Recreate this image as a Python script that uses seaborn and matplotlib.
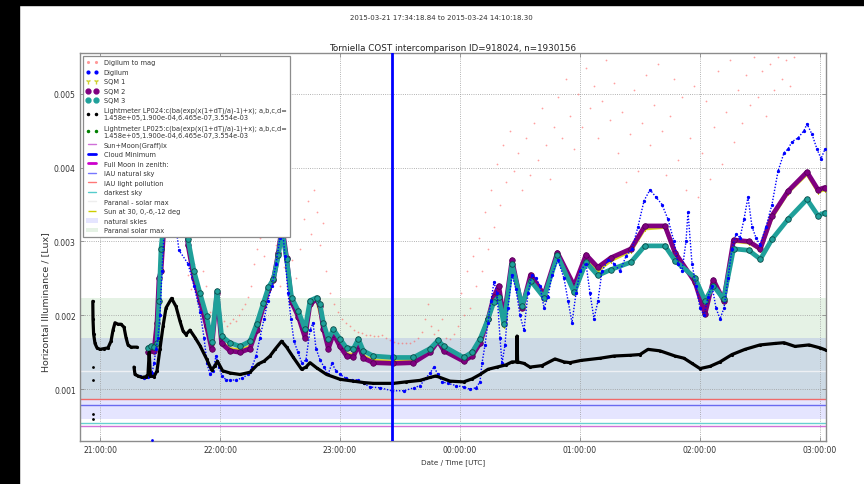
import numpy as np
import pandas as pd
import matplotlib
matplotlib.use("Agg")
import matplotlib.pyplot as plt
import matplotlib.dates as mdates
from matplotlib.patches import Rectangle, Patch
from matplotlib.lines import Line2D
import seaborn as sns

# ---------------- data (minutes after 21:00 UTC, values in milli-lux) ----------------
suptitle_text = "2015-03-21 17:34:18.84 to 2015-03-24 14:10:18.30"
title_text = "Torniella COST intercomparison ID=918024, n=1930156"

lp024_seg1 = [(-3.6, 2.19), (-3.5, 1.95), (-3.2, 1.75), (-2.5, 1.62), (-1.5, 1.56), (0, 1.54),
              (2, 1.55), (4, 1.56), (5.5, 1.65), (6.5, 1.80), (7.5, 1.90), (9, 1.88), (10.5, 1.88),
              (12, 1.84), (13, 1.70), (14, 1.60), (15.5, 1.57), (18.5, 1.57)]
lp024_seg2 = [(17, 1.30), (17.5, 1.20), (19, 1.18), (21, 1.16), (23, 1.17), (24, 1.20), (24.6, 1.50),
              (25.2, 1.18), (27, 1.17), (28.5, 1.25), (30, 1.55), (31.5, 1.85), (33, 2.10), (35.8, 2.23),
              (38, 2.12), (40, 1.92), (41.5, 1.79), (43, 1.74), (45, 1.80), (47.5, 1.70), (50, 1.59),
              (53.3, 1.41), (55.8, 1.26), (57.5, 1.32), (58.7, 1.38), (61.3, 1.25), (65, 1.22),
              (70, 1.20), (75, 1.23), (79, 1.34), (82, 1.38), (85, 1.45), (87.5, 1.54), (90.8, 1.65),
              (93.3, 1.57), (96.7, 1.43), (100.8, 1.27), (103, 1.30), (105, 1.36), (108.3, 1.29),
              (113.3, 1.20), (120, 1.135), (126.7, 1.11), (132, 1.09), (136.7, 1.08), (146.7, 1.08),
              (153, 1.10), (160, 1.12), (165, 1.16), (168, 1.18), (175, 1.11), (181.8, 1.10),
              (186, 1.14), (190, 1.20), (194, 1.27), (198.5, 1.30), (203, 1.33), (206, 1.37),
              (208.3, 1.37), (208.5, 1.72), (208.8, 1.37), (212, 1.35), (215, 1.30), (221, 1.32),
              (227.5, 1.41), (232, 1.37), (235, 1.36), (240.5, 1.39), (250, 1.42), (257, 1.45),
              (265, 1.46), (270, 1.47), (274, 1.54), (280, 1.52), (287.5, 1.45), (292, 1.42),
              (296, 1.35), (300, 1.28), (305, 1.31), (310, 1.37), (316, 1.47), (322.5, 1.54),
              (330, 1.60), (337.5, 1.62), (342, 1.63), (347.5, 1.58), (354.5, 1.60), (360, 1.56),
              (363, 1.53)]
lp024_isolated = [(-3.5, 1.30), (-3.5, 1.12), (-3.5, 0.66), (-3.5, 0.60)]

sqm3 = [(24, 1.56), (25.5, 1.58), (27, 1.57), (28.5, 1.62), (29.5, 2.2), (30.5, 2.9), (32, 3.3),
        (35, 3.8), (38, 4.2), (41, 3.7), (44, 3.03), (47, 2.6), (50, 2.3), (53.3, 1.99), (55.8, 1.64),
        (58.5, 2.33), (60.8, 1.72), (65, 1.63), (70, 1.58), (75, 1.65), (78.3, 1.88), (81.7, 2.17),
        (84.2, 2.38), (86.7, 2.49), (89.2, 2.81), (91, 3.15), (93.3, 2.76), (95.8, 2.24), (99.2, 2.06),
        (102.5, 1.81), (105, 2.20), (108.3, 2.24), (110, 2.15), (111.7, 1.90), (114.2, 1.68),
        (116.7, 1.81), (120, 1.68), (123.3, 1.56), (126.7, 1.55), (129.2, 1.68), (131.7, 1.52),
        (136.7, 1.45), (146.7, 1.43), (156.7, 1.43), (165, 1.55), (169, 1.66), (172, 1.58),
        (181.8, 1.43), (186, 1.50), (190, 1.68), (194, 1.95), (196.9, 2.18), (199.4, 2.25),
        (201.9, 1.88), (206, 2.69), (211, 2.13), (215.3, 2.47), (222, 2.24), (228.7, 2.81),
        (237.1, 2.31), (243, 2.72), (248.9, 2.54), (255.5, 2.62), (265.5, 2.72), (272.4, 2.94),
        (282.5, 2.94), (287.5, 2.74), (297.5, 2.51), (302.5, 2.20), (306.7, 2.40), (311.8, 2.22),
        (316.8, 2.90), (324.4, 2.88), (330.2, 2.76), (336, 3.03), (344, 3.30), (353.5, 3.57),
        (359, 3.35), (362.5, 3.39)]

sqm2 = [(24, 1.50), (25.5, 1.53), (27, 1.52), (28.5, 1.9), (29.5, 2.5), (30.5, 2.6), (32, 3.2),
        (35, 3.9), (38, 4.3), (41, 3.8), (44, 2.95), (47, 2.5), (50, 2.2), (53.3, 1.85), (55.8, 1.55),
        (58.5, 2.30), (60.8, 1.62), (65, 1.52), (70, 1.50), (75, 1.55), (78.3, 1.80), (81.7, 2.12),
        (84.2, 2.35), (86.7, 2.48), (89.2, 2.85), (91, 3.22), (93.3, 2.78), (95.8, 2.18), (99.2, 1.98),
        (102.5, 1.70), (105, 2.15), (108.3, 2.22), (110, 2.12), (111.7, 1.82), (114.2, 1.55),
        (116.7, 1.75), (120, 1.58), (123.3, 1.45), (126.7, 1.44), (129.2, 1.60), (131.7, 1.42),
        (136.7, 1.36), (146.7, 1.35), (156.7, 1.36), (165, 1.50), (169, 1.65), (172, 1.52),
        (181.8, 1.38), (186, 1.45), (190, 1.62), (194, 1.95), (196.9, 2.25), (199.4, 2.40),
        (201.9, 1.95), (206, 2.75), (211, 2.10), (215.3, 2.55), (222, 2.28), (228.7, 2.85),
        (237.1, 2.40), (243, 2.82), (248.9, 2.65), (255.5, 2.78), (265.5, 2.90), (272.4, 3.21),
        (282.5, 3.21), (287.5, 2.85), (297.5, 2.45), (302.5, 2.02), (306.7, 2.48), (311.8, 2.20),
        (316.8, 3.02), (324.4, 3.00), (330.2, 2.90), (336, 3.35), (344, 3.68), (353.5, 3.94),
        (359, 3.70), (362.5, 3.73)]

sqm1 = [(24, 1.52), (27, 1.53), (30.5, 2.7), (35, 3.85), (41, 3.75), (44, 2.96), (50, 2.22),
        (53.3, 1.87), (55.8, 1.58), (58.5, 2.30), (60.8, 1.64), (65, 1.55), (70, 1.53), (75, 1.58),
        (78.3, 1.82), (81.7, 2.13), (86.7, 2.48), (91, 3.18), (95.8, 2.19), (99.2, 1.99),
        (102.5, 1.73), (105, 2.16), (108.3, 2.22), (111.7, 1.84), (114.2, 1.58), (116.7, 1.77),
        (120, 1.61), (123.3, 1.48), (126.7, 1.47), (129.2, 1.62), (131.7, 1.45), (136.7, 1.39),
        (146.7, 1.38), (156.7, 1.39), (165, 1.51), (169, 1.64), (172, 1.53), (181.8, 1.39),
        (186, 1.46), (190, 1.63), (194, 1.92), (196.9, 2.20), (199.4, 2.30), (201.9, 1.85),
        (206, 2.72), (211, 2.10), (215.3, 2.50), (222, 2.26), (228.7, 2.83), (237.1, 2.36),
        (243, 2.78), (248.9, 2.60), (255.5, 2.74), (265.5, 2.87), (272.4, 3.17), (282.5, 3.19),
        (287.5, 2.83), (297.5, 2.46), (302.5, 2.06), (306.7, 2.46), (311.8, 2.21), (316.8, 3.00),
        (324.4, 2.98), (330.2, 2.89), (336, 3.32), (344, 3.66), (353.5, 3.91), (359, 3.67),
        (362.5, 3.70)]

digilum = [(20, 1.18), (22, 1.15), (24, 1.17), (26, 1.22), (27, 1.35), (28, 1.55), (29, 1.7),
           (30, 2.0), (31, 2.6), (32, 3.1), (36, 3.6), (39.5, 2.88), (44, 2.7), (47, 2.4), (50, 2.05),
           (52, 1.7), (53.5, 1.35), (55, 1.20), (56.5, 1.25), (58, 1.45), (59.5, 1.30), (61, 1.18),
           (63, 1.13), (65, 1.12), (68, 1.13), (71, 1.15), (74, 1.20), (76, 1.30), (78, 1.45),
           (80, 1.70), (82, 1.95), (84, 2.20), (86, 2.40), (88, 2.70), (90, 3.05), (91, 3.25),
           (92.5, 2.8), (94, 2.30), (95.5, 1.95), (97, 1.65), (99, 1.50), (101, 1.35), (103, 1.40),
           (105, 1.80), (106.5, 1.90), (108, 1.55), (110, 1.40), (112, 1.30), (114, 1.20),
           (116, 1.35), (118, 1.25), (120, 1.20), (123, 1.15), (126, 1.12), (129, 1.13), (132, 1.08),
           (135, 1.03), (140, 1.02), (146, 0.98), (152, 0.98), (157, 1.02), (160, 1.05), (163, 1.15),
           (165, 1.22), (167, 1.30), (169, 1.20), (171, 1.10), (174, 1.08), (178, 1.05), (182, 1.03),
           (185, 1.00), (188, 1.02), (190, 1.10), (191, 1.35), (192.5, 1.60), (194, 1.90),
           (195.5, 2.20), (197, 2.45), (198.5, 2.30), (200, 1.70), (201, 1.35), (202.5, 1.60),
           (204, 2.10), (206, 2.55), (208, 2.35), (210, 2.00), (212, 1.80), (214, 2.30), (216, 2.55),
           (218, 2.50), (220, 2.40), (222, 2.10), (224, 2.25), (226, 2.55), (229, 2.75), (232, 2.50),
           (234, 2.20), (236, 1.90), (238, 2.30), (240, 2.60), (243, 2.70), (245, 2.30), (247, 1.95),
           (249, 2.20), (251, 2.60), (254, 2.75), (257, 2.70), (260, 2.60), (263, 2.80), (266, 2.90),
           (269, 3.20), (272, 3.55), (275, 3.70), (278, 3.60), (281, 3.50), (284, 3.30), (287, 3.00),
           (289, 2.70), (291, 2.60), (293, 3.00), (294, 3.40), (296, 2.70), (298, 2.40), (300, 2.10),
           (302, 2.00), (304, 2.25), (306, 2.40), (308, 2.10), (310, 1.95), (312, 2.10), (314, 2.50),
           (316, 2.90), (318, 3.10), (320, 3.05), (322, 3.30), (324, 3.60), (326, 3.20), (328, 3.05),
           (330, 2.95), (333, 3.20), (336, 3.50), (339, 3.95), (342, 4.20), (344, 4.25), (346, 4.35),
           (349, 4.40), (352, 4.50), (353.5, 4.59), (356, 4.45), (358.5, 4.25), (360.5, 4.12),
           (362.5, 4.25)]
digilum_isolated = [(26, 0.31)]

digilum_to_mag = [(44, 2.55), (45.5, 2.35), (47, 2.70), (48, 2.45), (50, 2.20), (51.5, 2.60),
                  (53, 2.40), (55, 2.05), (57, 1.95), (59, 1.90), (60.5, 1.88), (62, 1.92), (63.5, 1.86),
                  (65, 1.90), (66.5, 1.95), (68, 1.92), (69.5, 2.00), (71, 2.08), (72.5, 2.15), (74, 2.25),
                  (75.5, 2.40), (77, 2.70), (78.5, 2.90), (80, 3.05), (82, 2.80), (84, 3.20), (86, 2.55),
                  (88, 2.95), (90, 2.40), (92, 2.65), (94, 2.30), (96, 2.75), (98, 2.50), (100, 2.90),
                  (102, 3.30), (104, 3.55), (105.5, 3.10), (107, 3.70), (108.5, 3.40), (110, 2.95),
                  (111.5, 3.25), (113, 2.60), (115, 2.30), (117, 2.15), (119, 2.05), (121, 1.95),
                  (123, 1.90), (125, 1.85), (127, 1.80), (129, 1.78), (131, 1.76), (133, 1.74),
                  (135, 1.73), (137, 1.72), (139, 1.72), (141, 1.73), (143, 1.70), (145, 1.66),
                  (147, 1.64), (149, 1.62), (151, 1.62), (153, 1.63), (155, 1.62), (157, 1.65),
                  (159, 1.70), (161, 1.78), (162.5, 1.95), (164, 2.15), (165.5, 1.85), (167, 1.75),
                  (169, 1.80), (171, 1.95), (173, 1.70), (175, 1.68), (177, 1.75), (179, 1.85),
                  (180.5, 2.30), (182, 2.00), (183.5, 2.60), (185, 2.10), (186.5, 2.80), (188, 2.40),
                  (189.5, 3.05), (191, 2.60), (192.5, 3.40), (194, 2.90), (195.5, 3.70), (197, 3.20),
                  (198.5, 4.05), (200, 3.50), (201.5, 4.30), (203, 3.80), (205, 4.50), (207, 3.95),
                  (209, 4.20), (211, 3.70), (213, 4.40), (215, 3.90), (217, 4.60), (219, 4.10),
                  (221, 4.80), (223, 4.30), (225, 3.85), (227, 4.55), (229, 4.95), (231, 4.40),
                  (233, 5.20), (235, 4.70), (237, 4.25), (239, 5.00), (241, 4.55), (243, 5.35),
                  (245, 4.80), (247, 5.10), (249, 4.40), (251, 4.90), (253, 5.45), (255, 4.65),
                  (257, 5.15), (259, 4.20), (261, 4.75), (263, 3.80), (265, 4.45), (267, 5.05),
                  (269, 3.95), (271, 4.60), (273, 5.25), (275, 4.30), (277, 4.85), (279, 5.40),
                  (281, 4.50), (283, 3.90), (285, 4.70), (287, 5.20), (289, 4.10), (291, 4.95),
                  (293, 3.70), (295, 4.40), (297, 5.10), (299, 3.60), (301, 4.20), (303, 4.90),
                  (305, 3.85), (307, 4.55), (309, 5.30), (311, 4.05), (313, 4.75), (315, 5.45),
                  (317, 4.35), (319, 5.05), (321, 4.60), (323, 5.25), (325, 4.85), (327, 5.50),
                  (329, 4.95), (331, 5.30), (333, 4.70), (335, 5.40), (337, 5.05), (339, 5.50),
                  (341, 5.20), (343, 5.45), (345, 5.10), (347, 5.50)]

# reference levels (lux)
level_names = ["IAU light pollution", "IAU natural sky", "darkest sky", "Sun+Moon(Graff)lx", "Paranal - solar max"]
level_values = [0.000864, 0.000783, 0.000540, 0.000508, 0.001250]
level_colors = ["#f06a6a", "#6a6af0", "#66d0d0", "#d070d8", "#eef0f4"]
# shaded bands (lux)
band_names = ["natural skies", "Paranal solar max"]
band_low = [0.00060, 0.00086]
band_high = [0.00170, 0.00224]
band_colors = ["blue", "green"]
cloud_minimum_minute = 146.15

BASE = pd.Timestamp("2015-03-23 21:00:00")


def to_df(pairs, seg=0):
    m = np.array([p[0] for p in pairs], float)
    v = np.array([p[1] for p in pairs], float) * 1e-3
    return pd.DataFrame({"time": BASE + pd.to_timedelta(m, unit="min"), "lux": v, "seg": seg})


# ---------------- figure ----------------
sns.set_theme(style="white")
plt.rcParams["font.family"] = ["DejaVu Sans"]

fig = plt.figure(figsize=(8.64, 4.85), dpi=100)
ax = fig.add_axes([80 / 864, 43 / 485, 746 / 864, 388 / 485])

for lo, hi, c in zip(band_low, band_high, band_colors):
    ax.axhspan(lo, hi, color=c, alpha=0.1, lw=0, zorder=0.5)
for v, c in zip(level_values, level_colors):
    ax.axhline(v, color=c, lw=1.0, zorder=1)

red = to_df(digilum_to_mag)
sns.scatterplot(data=red, x="time", y="lux", ax=ax, color="#ff6060", s=1.6, linewidth=0,
                alpha=0.6, legend=False, zorder=2)

y1 = to_df(sqm1)
sns.lineplot(data=y1, x="time", y="lux", ax=ax, color="#d8d820", lw=2.2, marker="1",
             markersize=3.5, markeredgecolor="#c8c800", sort=False, estimator=None, legend=False, zorder=3)
p2 = to_df(sqm2)
sns.lineplot(data=p2, x="time", y="lux", ax=ax, color="#800080", lw=3.4, marker="o",
             markersize=4.0, markeredgecolor="#500050", markeredgewidth=0.5,
             sort=False, estimator=None, legend=False, zorder=4)
t3 = to_df(sqm3)
sns.lineplot(data=t3, x="time", y="lux", ax=ax, color="#1fa09a", lw=3.4, marker="o",
             markersize=4.0, markeredgecolor="#0b4a48", markeredgewidth=0.6,
             sort=False, estimator=None, legend=False, zorder=5)

bl = to_df(digilum)
sns.lineplot(data=bl, x="time", y="lux", ax=ax, color="blue", lw=1.0, linestyle=(0, (1, 1.2)),
             marker=".", markersize=3.2, markeredgecolor="blue", sort=False, estimator=None,
             legend=False, zorder=6)
sns.scatterplot(data=to_df(digilum_isolated), x="time", y="lux", ax=ax, color="blue", s=4,
                linewidth=0, legend=False, zorder=6)

blk = pd.concat([to_df(lp024_seg1, 0), to_df(lp024_seg2, 1)], ignore_index=True)
sns.lineplot(data=blk, x="time", y="lux", units="seg", ax=ax, color="black", lw=2.3,
             marker=".", markersize=3, markeredgecolor="black", sort=False, estimator=None,
             legend=False, zorder=7)
sns.scatterplot(data=to_df(lp024_isolated), x="time", y="lux", ax=ax, color="black", s=4,
                linewidth=0, legend=False, zorder=7)

ax.axvline(BASE + pd.to_timedelta(cloud_minimum_minute, unit="min"), color="blue", lw=2, zorder=8)

# ---------------- axes styling ----------------
ax.set_xlim(BASE + pd.Timedelta(minutes=-10), BASE + pd.Timedelta(minutes=363))
ax.set_ylim(0.0003, 0.00555)
ax.xaxis.set_major_locator(mdates.HourLocator())
ax.xaxis.set_major_formatter(mdates.DateFormatter("%H:%M:%S"))
ax.set_yticks([0.001, 0.002, 0.003, 0.004, 0.005])
ax.yaxis.set_major_formatter(matplotlib.ticker.FormatStrFormatter("%.3f"))
ax.grid(True, ls=":", color="#9a9a9a", lw=0.6)
for s in ax.spines.values():
    s.set_color("#8c8c8c")
    s.set_linewidth(1.0)
ax.tick_params(direction="in", length=3, width=0.6, color="#8c8c8c", labelsize=5.5,
               labelcolor="#333333", top=True, right=True, bottom=True, left=True, pad=3)
ax.set_xlabel("Date / Time [UTC]", fontsize=5.2, color="#333333", labelpad=3)
ax.set_ylabel("Horizontal Illuminance / [Lux]", fontsize=6.8, color="#333333")
ax.yaxis.set_label_coords(-0.04, 0.36)
ax.set_title(title_text, fontsize=6.3, color="#222222", pad=2.5)
fig.suptitle(suptitle_text, x=441 / 864, y=1 - 18 / 485, va="center", fontsize=5.0, color="#333333")

handles = [
    Line2D([], [], ls="", marker=".", color="#ff9999", ms=2.5),
    Line2D([], [], ls="", marker=".", color="blue", ms=4),
    Line2D([], [], ls="", marker="1", color="#d0d030", ms=4),
    Line2D([], [], ls="", marker="o", color="#800080", ms=3.5),
    Line2D([], [], ls="", marker="o", color="#1fa09a", ms=3.5),
    Line2D([], [], ls="", marker=".", color="black", ms=3),
    Line2D([], [], ls="", marker=".", color="green", ms=3),
    Line2D([], [], color="#d070d8", lw=1),
    Line2D([], [], color="blue", lw=2),
    Line2D([], [], color="#cc00cc", lw=2),
    Line2D([], [], color="#7777ff", lw=1),
    Line2D([], [], color="#ff7777", lw=1),
    Line2D([], [], color="#55cccc", lw=1),
    Line2D([], [], color="#eeeeee", lw=1),
    Line2D([], [], color="#cccc00", lw=1, ls="-."),
    Patch(facecolor="blue", alpha=0.1, edgecolor="none"),
    Patch(facecolor="green", alpha=0.1, edgecolor="none"),
]
labels = [
    "Digilum to mag", "Digilum", "SQM 1", "SQM 2", "SQM 3",
    "Lightmeter LP024:c(ba(exp(x(1+dT)/a)-1)+x); a,b,c,d=\n1.458e+05,1.900e-04,6.465e-07,3.554e-03",
    "Lightmeter LP025:c(ba(exp(x(1+dT)/a)-1)+x); a,b,c,d=\n1.458e+05,1.900e-04,6.465e-07,3.554e-03",
    "Sun+Moon(Graff)lx", "Cloud Minimum", "Full Moon in zenith:", "IAU natural sky",
    "IAU light pollution", "darkest sky", "Paranal - solar max", "Sun at 30, 0,-6,-12 deg",
    "natural skies", "Paranal solar max",
]
leg = ax.legend(handles, labels, loc="upper left", fontsize=4.8, numpoints=2, frameon=True,
                fancybox=False, edgecolor="#8c8c8c", framealpha=1.0, borderaxespad=0.45,
                handlelength=1.7, handletextpad=0.9, labelspacing=0.53, borderpad=0.5)
leg.get_frame().set_linewidth(0.9)
for t in leg.get_texts():
    t.set_color("#333333")
leg.set_zorder(20)

# black border strips of the original screenshot
fig.add_artist(Rectangle((0, 1 - 6 / 485), 1, 6 / 485, transform=fig.transFigure,
                         color="black", zorder=50))
fig.add_artist(Rectangle((0, 0), 19 / 864, 1, transform=fig.transFigure, color="black", zorder=50))

fig.savefig("out.png", dpi=100, facecolor="white")
